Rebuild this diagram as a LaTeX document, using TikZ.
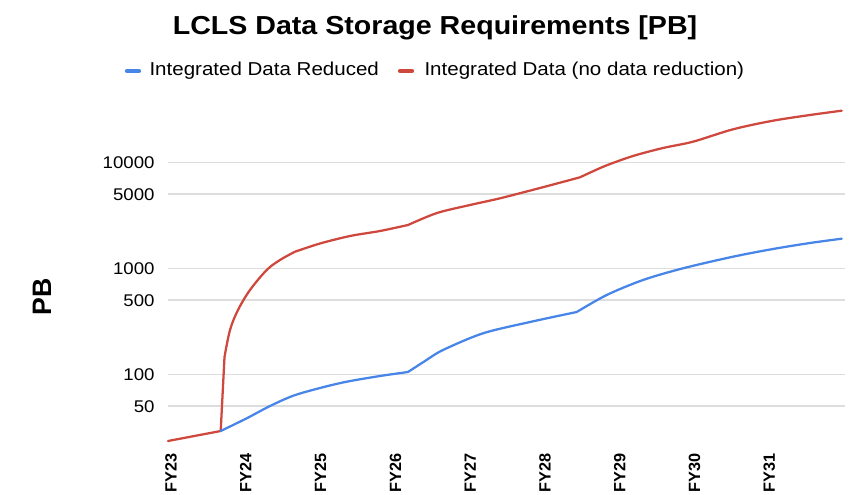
\documentclass[tikz,border=0pt]{standalone}
\usepackage{fontspec}
\setmainfont{Liberation Sans}[FakeStretch=1.1]
\newfontfamily\upfont{Liberation Sans}

\definecolor{sheetblue}{RGB}{72,133,232}
\definecolor{sheetred}{RGB}{207,72,62}
\definecolor{gridgray}{RGB}{221,221,221}

\tikzset{every picture/.style={line width=0.75pt}}
\tikzset{
  gridline/.style={color=gridgray, line width=1.1pt},
  redline/.style={color=sheetred, line width=1.7pt, line join=round, line cap=round},
  blueline/.style={color=sheetblue, line width=1.7pt, line join=round, line cap=round},
  legmark/.style={line width=3.2pt, line cap=round},
  ticklabel/.style={anchor=east, inner sep=0.75pt, font=\fontsize{12.7}{14}\selectfont},
  fylabel/.style={anchor=east, rotate=90, inner sep=0.75pt, font=\upfont\bfseries\fontsize{12.2}{14}\selectfont},
}

\begin{document}
\begin{tikzpicture}[x=0.75pt,y=0.75pt,yscale=-1,xscale=1]
\useasboundingbox (0,0) rectangle (856,495);

%Grid Lines
\draw [gridline] (168,162.3) -- (845,162.3) ;
\draw [gridline] (168,194.2) -- (845,194.2) ;
\draw [gridline] (168,268.3) -- (845,268.3) ;
\draw [gridline] (168,300.2) -- (845,300.2) ;
\draw [gridline] (168,374.3) -- (845,374.3) ;
\draw [gridline] (168,406.2) -- (845,406.2) ;

%Curve: integrated data (no data reduction)
\draw [redline] (168,441) -- (220.7,431) -- (224.5,357)
  -- plot [smooth, tension=0.55] coordinates {(224.5,357) (230,330) (238,310) (250,290) (266.7,270) (280,260) (295,251.7)}
  -- plot [smooth, tension=0.5] coordinates {(295,251.7) (320,243.5) (350,236) (380,231) (408,225)}
  -- plot [smooth, tension=0.5] coordinates {(408,225) (437,213) (470,205) (500,198.3) (540,188) (580,177.3)}
  -- plot [smooth, tension=0.5] coordinates {(580,177.3) (605,166) (633,156) (663,148) (693,141.7) (733,129.3) (773,120.7) (810,115) (841.7,110.7)} ;

%Curve: integrated data reduced
\draw [blueline] (220.7,431)
  -- plot [smooth, tension=0.5] coordinates {(220.7,431) (246.7,418.3) (270,406) (293.3,395.7) (320,388) (346.7,381.7) (380,376) (408,372)}
  -- plot [smooth, tension=0.5] coordinates {(408,372) (425,361) (443,350) (483,333.3) (530,322) (576.7,312)}
  -- plot [smooth, tension=0.5] coordinates {(576.7,312) (606.7,295) (643,280) (683,268.3) (733,256.7) (773,249) (810,243) (841.7,238.7)} ;

% Title
\node (title) at (435,35) [anchor=base, inner sep=0.75pt, font=\bfseries\fontsize{19.5}{22}\selectfont] {LCLS Data Storage Requirements [PB]};

%Legend
\draw [legmark, color=sheetblue] (127,71) -- (139,71) ;
\node (legreduced) at (148,76) [anchor=base west, inner sep=0.75pt, font=\fontsize{14}{16}\selectfont] {Integrated Data Reduced};
\draw [legmark, color=sheetred] (400,71) -- (412,71) ;
\node (legfull) at (423,76) [anchor=base west, inner sep=0.75pt, font=\fontsize{14}{16}\selectfont] {Integrated Data (no data reduction)};

% Axis title
\node (ytitle) at (42,297) [rotate=90, inner sep=0.75pt, font=\upfont\bfseries\fontsize{20}{22}\selectfont] {PB};

% Tick labels
\node (t10000) at (156,162.3) [ticklabel] {10000};
\node (t5000) at (156,194.2) [ticklabel] {5000};
\node (t1000) at (156,268.3) [ticklabel] {1000};
\node (t500) at (156,300.2) [ticklabel] {500};
\node (t100) at (156,374.3) [ticklabel] {100};
\node (t50) at (156,406.2) [ticklabel] {50};

% Year labels
\node (fy23) at (171,452) [fylabel] {FY23};
\node (fy24) at (245.8,452) [fylabel] {FY24};
\node (fy25) at (320.6,452) [fylabel] {FY25};
\node (fy26) at (395.4,452) [fylabel] {FY26};
\node (fy27) at (470.2,452) [fylabel] {FY27};
\node (fy28) at (545,452) [fylabel] {FY28};
\node (fy29) at (619.8,452) [fylabel] {FY29};
\node (fy30) at (694.6,452) [fylabel] {FY30};
\node (fy31) at (769.4,452) [fylabel] {FY31};

\end{tikzpicture}
\end{document}
